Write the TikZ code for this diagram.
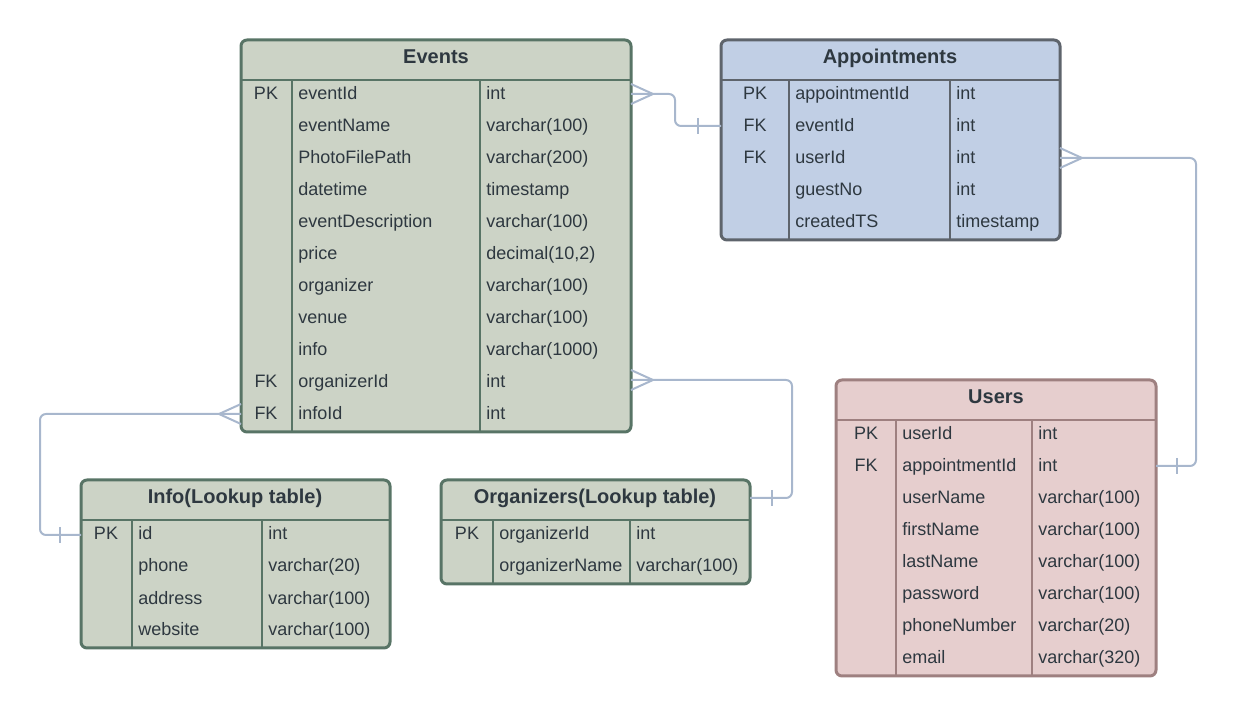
\documentclass[tikz,border=0pt]{standalone}
\usepackage{fontspec}
\setmainfont{Liberation Sans}
\usetikzlibrary{calc}

\definecolor{grnFill}{HTML}{CCD3C6}
\definecolor{grnLine}{HTML}{587466}
\definecolor{bluFill}{HTML}{C1CFE5}
\definecolor{bluLine}{HTML}{5E646C}
\definecolor{pnkFill}{HTML}{E6CECE}
\definecolor{pnkLine}{HTML}{9E8080}
\definecolor{linkBlue}{HTML}{A8B7CD}
\definecolor{inkGrey}{HTML}{2E3840}

\begin{document}
\begin{tikzpicture}[
        x={(0.5pt,0)},
        y={(0,-0.5pt)},
        every node/.style={font=\fontsize{9}{11}\selectfont, text=inkGrey, inner sep=0pt},
        title/.style={font=\fontsize{10}{12}\selectfont\bfseries, anchor=base},
        keycell/.style={anchor=base},
        cell/.style={anchor=base west},
        conn/.style={draw=linkBlue, line width=1pt, rounded corners=3pt},
        crow/.style={draw=linkBlue, line width=1pt}
    ]
        \useasboundingbox (0,0) rectangle (1238,716);

        % Events table
        \def\evL{241} \def\evR{631}
        \filldraw[fill=grnFill, draw=grnLine, line width=1.5pt, rounded corners=3pt] (\evL,40) rectangle (\evR,432);
        \draw[grnLine, line width=1.3pt] (\evL,80) -- (\evR,80) (292,80) -- (292,432) (480,80) -- (480,432);
        \node[title] (events) at (436,64) {Events};
        \foreach \k/\n/\t [count=\i from 0] in {PK/eventId/int, /eventName/varchar(100),
            /PhotoFilePath/varchar(200), /datetime/timestamp, /eventDescription/varchar(100),
            /price/{decimal(10,2)}, /organizer/varchar(100), /venue/varchar(100),
            /info/varchar(1000), FK/organizerId/int, FK/infoId/int}{
            \node[keycell] (ev-k\i) at (266,100+32*\i) {\k};
            \node[cell] (ev-n\i) at (298,100+32*\i) {\n};
            \node[cell] (ev-t\i) at (486,100+32*\i) {\t};
        }

        % Appointments table
        \filldraw[fill=bluFill, draw=bluLine, line width=1.5pt, rounded corners=3pt] (721,40) rectangle (1060,240);
        \draw[bluLine, line width=1.3pt] (721,80) -- (1060,80) (789,80) -- (789,240) (950,80) -- (950,240);
        \node[title] (appointments) at (890,64) {Appointments};
        \foreach \k/\n/\t [count=\i from 0] in {PK/appointmentId/int, FK/eventId/int,
            FK/userId/int, /guestNo/int, /createdTS/timestamp}{
            \node[keycell] (ap-k\i) at (755,100+32*\i) {\k};
            \node[cell] (ap-n\i) at (795,100+32*\i) {\n};
            \node[cell] (ap-t\i) at (956,100+32*\i) {\t};
        }

        % Users table
        \filldraw[fill=pnkFill, draw=pnkLine, line width=1.5pt, rounded corners=3pt] (836,380) rectangle (1156,676);
        \draw[pnkLine, line width=1.3pt] (836,420) -- (1156,420) (896,420) -- (896,676) (1032,420) -- (1032,676);
        \node[title] (users) at (996,404) {Users};
        \foreach \k/\n/\t [count=\i from 0] in {PK/userId/int, FK/appointmentId/int,
            /userName/varchar(100), /firstName/varchar(100), /lastName/varchar(100),
            /password/varchar(100), /phoneNumber/varchar(20), /email/varchar(320)}{
            \node[keycell] (us-k\i) at (866,440+32*\i) {\k};
            \node[cell] (us-n\i) at (902,440+32*\i) {\n};
            \node[cell] (us-t\i) at (1038,440+32*\i) {\t};
        }

        % Info lookup table
        \filldraw[fill=grnFill, draw=grnLine, line width=1.5pt, rounded corners=3pt] (81,480) rectangle (390,648);
        \draw[grnLine, line width=1.3pt] (81,520) -- (390,520) (132,520) -- (132,648) (262,520) -- (262,648);
        \node[title] (info) at (235,504) {Info(Lookup table)};
        \foreach \k/\n/\t [count=\i from 0] in {PK/id/int, /phone/varchar(20),
            /address/varchar(100), /website/varchar(100)}{
            \node[keycell] (in-k\i) at (106,540+32*\i) {\k};
            \node[cell] (in-n\i) at (138,540+32*\i) {\n};
            \node[cell] (in-t\i) at (268,540+32*\i) {\t};
        }

        % Organizers lookup table
        \filldraw[fill=grnFill, draw=grnLine, line width=1.5pt, rounded corners=3pt] (441,480) rectangle (750,584);
        \draw[grnLine, line width=1.3pt] (441,520) -- (750,520) (493,520) -- (493,584) (630,520) -- (630,584);
        \node[title] (organizers) at (595,504) {Organizers(Lookup table)};
        \foreach \k/\n/\t [count=\i from 0] in {PK/organizerId/int, /organizerName/varchar(100)}{
            \node[keycell] (or-k\i) at (467,540+32*\i) {\k};
            \node[cell] (or-n\i) at (499,540+32*\i) {\n};
            \node[cell] (or-t\i) at (636,540+32*\i) {\t};
        }

        % attachment points on the table sides
        \coordinate (evEventId) at (\evR,94);
        \coordinate (apEventId) at (721,126);
        \coordinate (apUserId) at (1060,158);
        \coordinate (usApptId) at (1156,466);
        \coordinate (evInfoId) at (\evL,414);
        \coordinate (inId) at (81,535);
        \coordinate (evOrgId) at (\evR,380);
        \coordinate (orSide) at (750,498);

        % Events -< Appointments
        \draw[conn] (evEventId) -- ++(44,0) |- (apEventId);
        \draw[crow] ($(evEventId)+(0,-10)$) -- ++(22,10) -- ++(-22,10);
        \draw[crow] ($(apEventId)+(-23,-8)$) -- ++(0,16);

        % Appointments -< Users
        \draw[conn] (apUserId) -- ++(136,0) |- (usApptId);
        \draw[crow] ($(apUserId)+(0,-10)$) -- ++(22,10) -- ++(-22,10);
        \draw[crow] ($(usApptId)+(21,-8)$) -- ++(0,16);

        % Events -< Info
        \draw[conn] (evInfoId) -- ++(-201,0) |- (inId);
        \draw[crow] ($(evInfoId)+(0,-10)$) -- ++(-22,10) -- ++(22,10);
        \draw[crow] ($(inId)+(-21,-8)$) -- ++(0,16);

        % Events -< Organizers
        \draw[conn] (evOrgId) -- ++(161,0) |- (orSide);
        \draw[crow] ($(evOrgId)+(0,-10)$) -- ++(22,10) -- ++(-22,10);
        \draw[crow] ($(orSide)+(22,-8)$) -- ++(0,16);

    \end{tikzpicture}
\end{document}
